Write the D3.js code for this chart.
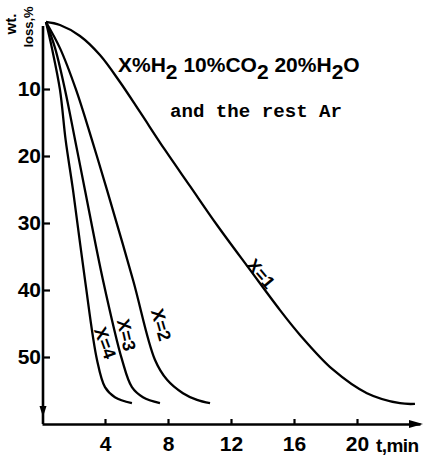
<!DOCTYPE html>
<html><head><meta charset="utf-8">
<script src="https://cdn.jsdelivr.net/npm/d3@7"></script>
<style>
html,body{margin:0;padding:0;background:#fff;}
svg text{fill:#000;}
</style></head>
<body>
<svg id="chart" width="427" height="459"></svg>
<script>
// ---- data (t in min, wt. loss in %) ----
const xTicks = [4, 8, 12, 16, 20];
const yTicks = [10, 20, 30, 40, 50];
const seriesNames = ["X=1", "X=2", "X=3", "X=4"];
const tX1 = [0.25, 1.14, 2.41, 3.68, 4.95, 6.22, 7.81, 9.40, 11.11, 13.21, 15.11, 16.38, 18.48, 20.63, 22.73, 23.68];
const wX1 = [0, 0.45, 2.09, 4.93, 8.96, 13.43, 19.1, 24.5, 30.3, 37.0, 43.0, 46.7, 51.9, 55.4, 56.9, 57.0];
const tX2 = [0.25, 1.14, 2.16, 3.17, 4.13, 5.78, 7.17, 7.94, 8.95, 9.84, 10.67];
const wX2 = [0, 3.9, 10.1, 17.6, 25.1, 38.5, 50.4, 53.4, 55.4, 56.4, 56.9];
const tX3 = [0.25, 0.83, 1.46, 2.10, 2.73, 3.87, 5.08, 5.71, 6.41, 7.49];
const wX3 = [0, 3.9, 10.1, 17.6, 25.1, 38.5, 50.4, 54.5, 56.0, 56.9];
const tX4 = [0.25, 0.63, 1.14, 1.50, 1.97, 2.73, 3.49, 4.0, 4.63, 5.71];
const wX4 = [0, 3.9, 10.1, 17.6, 25.1, 38.5, 50.4, 54.5, 56.0, 56.9];
const titleParts = [["X%H", false], ["2", true], [" 10%CO", false], ["2", true], [" 20%H", false], ["2", true], ["O", false]];
const subtitle = "and the rest Ar";
const xLabel = "t,min";
const yLabel1 = "wt.";
const yLabel2 = "loss,%";

const svg = d3.select("#chart");
const x = d3.scaleLinear().domain([0, 24]).range([42, 420]);
const y = d3.scaleLinear().domain([0, 60]).range([22, 424]);
const font = "'Liberation Sans',Arial,sans-serif";

// axes
const xAxis = d3.axisBottom(x).tickValues(xTicks).tickSize(-5).tickSizeOuter(0).tickPadding(12).tickFormat(d3.format("d"));
const gx = svg.append("g").attr("transform", `translate(0,${y(60)})`).call(xAxis);
const yAxis = d3.axisLeft(y).tickValues(yTicks).tickSize(-7).tickSizeOuter(0).tickPadding(2).tickFormat(d3.format("d"));
const gy = svg.append("g").attr("transform", `translate(${x(0) + 1},0)`).call(yAxis);
[gx, gy].forEach(g => {
  g.select(".domain").attr("stroke", "#000").attr("stroke-width", 2.6);
  g.selectAll(".tick line").attr("stroke", "#000").attr("stroke-width", 2.2);
  g.selectAll(".tick text").attr("font-family", font).attr("font-weight", "bold").attr("font-size", 21).attr("fill", "#000");
});
gy.select(".domain").attr("d", `M0,${y(0.6)}V${y(60)}`);

// arrowheads
const xEnd = x(24), yBase = y(60);
svg.append("path").attr("d", `M${xEnd + 3},${yBase} L${xEnd - 11},${yBase - 4} L${xEnd - 11},${yBase + 4} Z`).attr("fill", "#000");
const ax = x(0) + 1, ay = y(58.2);
svg.append("path").attr("d", `M${ax},${ay + 5} L${ax - 3.5},${ay - 6} L${ax + 3.5},${ay - 6} Z`).attr("fill", "#000");

// curves
const series = [[tX1, wX1], [tX2, wX2], [tX3, wX3], [tX4, wX4]];
const line = d3.line().x(d => x(d[0])).y(d => y(d[1])).curve(d3.curveCatmullRom.alpha(0.5));
series.forEach(([ts, ws]) => {
  svg.append("path").datum(ts.map((t, i) => [t, ws[i]])).attr("d", line)
    .attr("fill", "none").attr("stroke", "#000").attr("stroke-width", 2.3).attr("stroke-linejoin", "round");
});

// curve labels
const labelPos = [[13.9, 37.6, 50], [7.55, 45.2, 74], [5.35, 46.7, 77], [4.0, 47.9, 70]];
seriesNames.forEach((n, i) => {
  const [t, w, a] = labelPos[i];
  svg.append("text").attr("transform", `translate(${x(t)},${y(w)}) rotate(${a})`)
    .attr("text-anchor", "middle").attr("dominant-baseline", "central")
    .attr("font-family", font).attr("font-weight", "bold").attr("font-size", 18).text(n);
});

// title
const title = svg.append("text").attr("x", 118).attr("y", 72)
  .attr("font-family", font).attr("font-weight", "bold").attr("font-size", 21);
titleParts.forEach(([s, sub], i) => {
  title.append("tspan").attr("dy", sub ? 7 : (i === 0 ? 0 : -7)).text(s);
});
svg.append("text").attr("x", 170).attr("y", 117).attr("textLength", 172).attr("lengthAdjust", "spacingAndGlyphs")
  .attr("font-family", "'Liberation Mono','Courier New',monospace").attr("font-weight", "bold").attr("font-size", 18).text(subtitle);

// axis labels
svg.append("text").attr("x", 376).attr("y", 452).attr("font-family", font).attr("font-weight", "bold")
  .attr("font-size", 19).attr("letter-spacing", -0.6).text(xLabel);
svg.append("text").attr("transform", "translate(16,24) rotate(-90)").attr("text-anchor", "middle")
  .attr("font-family", font).attr("font-weight", "bold").attr("font-size", 15).text(yLabel1);
svg.append("text").attr("transform", "translate(33,27) rotate(-90)").attr("text-anchor", "middle")
  .attr("font-family", font).attr("font-weight", "bold").attr("font-size", 13).text(yLabel2);
</script>
</body></html>
